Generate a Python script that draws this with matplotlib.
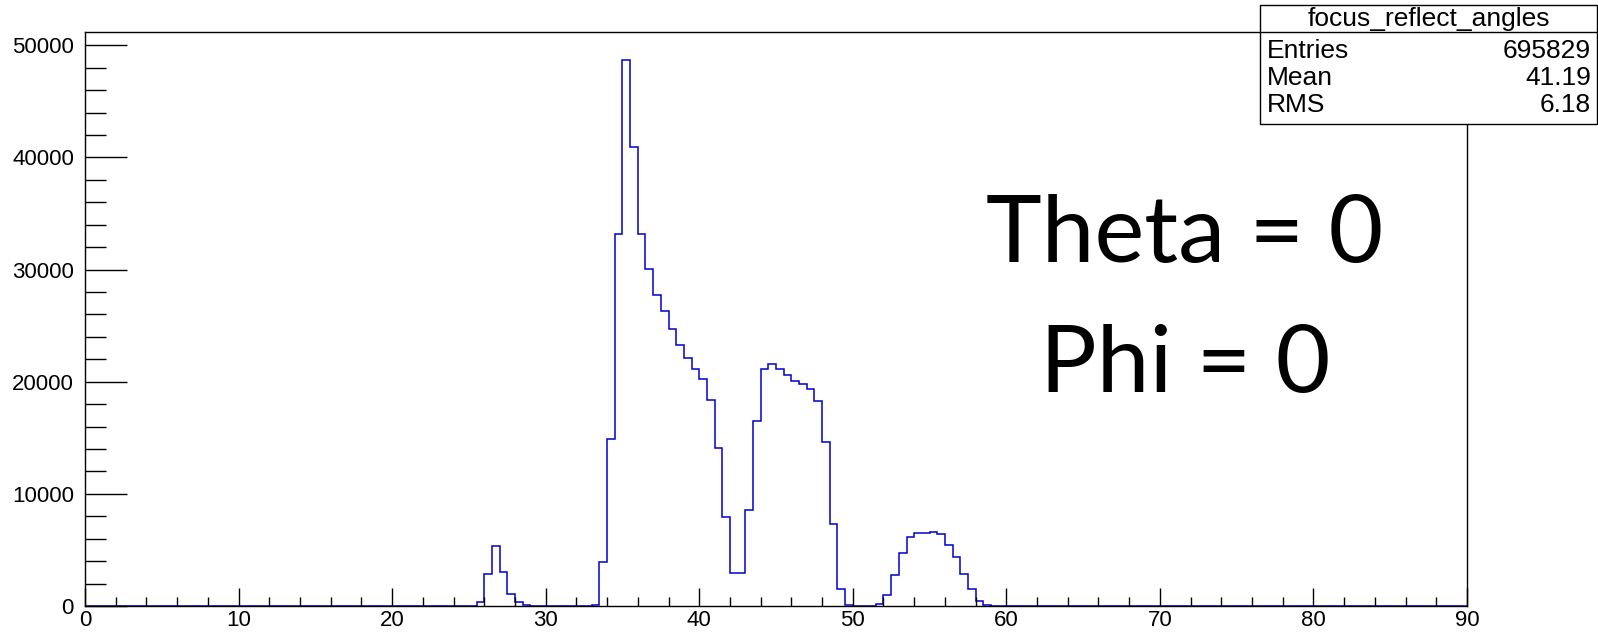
import matplotlib.pyplot as plt
import numpy as np

# histogram: 180 bins of 0.5 deg from 0 to 90
x_min, x_max, bin_width = 0.0, 90.0, 0.5

# occupied regions (lower edge of first bin, bin contents)
side_start = 25.5
side_counts = [324, 2820, 5350, 3015, 1070, 324, 65]

main_start = 33.0
main_counts = [100, 3955, 14910, 33170, 48700, 40910, 33200, 30050, 27720,
               26330, 24700, 23310, 22110, 21170, 20230, 18380, 14100, 7975,
               2950, 2950, 8556, 16490, 21120, 21600, 21120, 20590, 20080,
               19760, 19340, 18240, 14590, 7280, 1486, 60]

tail_start = 51.5
tail_counts = [180, 980, 2790, 4750, 6120, 6540, 6540, 6630, 6450, 5470,
               4370, 2880, 1490, 450, 60]

stats_name = "focus_reflect_angles"
stats_rows = [("Entries", "695829"), ("Mean", "41.19"), ("RMS", "6.18")]
note_lines = ["Theta = 0", "Phi = 0"]

edges = np.arange(x_min, x_max + bin_width / 2, bin_width)
counts = np.zeros(len(edges) - 1)
for start, vals in [(side_start, side_counts), (main_start, main_counts),
                    (tail_start, tail_counts)]:
    i0 = int(round((start - x_min) / bin_width))
    counts[i0:i0 + len(vals)] = vals

W, H = 1598, 634
plt.rcParams['font.family'] = ['Liberation Sans', 'DejaVu Sans']
fig = plt.figure(figsize=(W / 100, H / 100), dpi=100)
ax = fig.add_axes([85 / W, (H - 606) / H, 1382 / W, 573.5 / H])

ax.stairs(counts, edges, color="#0000d0", lw=1.1)
ax.set_xlim(x_min, x_max)
ax.set_ylim(0, 1.05 * counts.max())

ax.set_xticks(np.arange(0, 91, 10))
ax.set_xticks(np.arange(0, 91, 2), minor=True)
ax.set_yticks(np.arange(0, 50001, 10000))
ax.set_yticks(np.arange(0, 50001, 2000), minor=True)
ax.tick_params(axis="x", which="major", direction="in", length=13, width=1,
               labelsize=16, pad=3)
ax.tick_params(axis="x", which="minor", direction="in", length=6.5, width=1)
ax.tick_params(axis="y", which="major", direction="in", length=30, width=1,
               labelsize=16, pad=8)
ax.tick_params(axis="y", which="minor", direction="in", length=15, width=1)
for s in ax.spines.values():
    s.set_linewidth(1.0)

# stats box in the top right corner
bx0, bx1, by0, by1 = 1260, 1597, 5, 124
sep = 32
fs = 19
box = plt.Rectangle((bx0 / W, 1 - by1 / H), (bx1 - bx0) / W, (by1 - by0) / H,
                    transform=fig.transFigure, facecolor="white",
                    edgecolor="black", lw=1.0, zorder=10)
fig.add_artist(box)
fig.add_artist(plt.Line2D([bx0 / W, bx1 / W], [1 - sep / H, 1 - sep / H],
                          transform=fig.transFigure, color="black", lw=1.0,
                          zorder=11))
fig.text((bx0 + bx1) / 2 / W, 1 - 19 / H, stats_name, ha="center",
         va="center", fontsize=fs, zorder=12)
for k, (lab, val) in enumerate(stats_rows):
    yy = 1 - (51 + 27 * k) / H
    fig.text(1267 / W, yy, lab, ha="left", va="center", fontsize=fs,
             zorder=12)
    fig.text(1591 / W, yy, val, ha="right", va="center", fontsize=fs,
             zorder=12)

# annotation
for line, base in zip(note_lines, [262, 392]):
    fig.text(1185 / W, 1 - base / H, line, ha="center", va="baseline",
             fontsize=68, family=["Lato", "DejaVu Sans"])

fig.savefig("out.png", dpi=100)
